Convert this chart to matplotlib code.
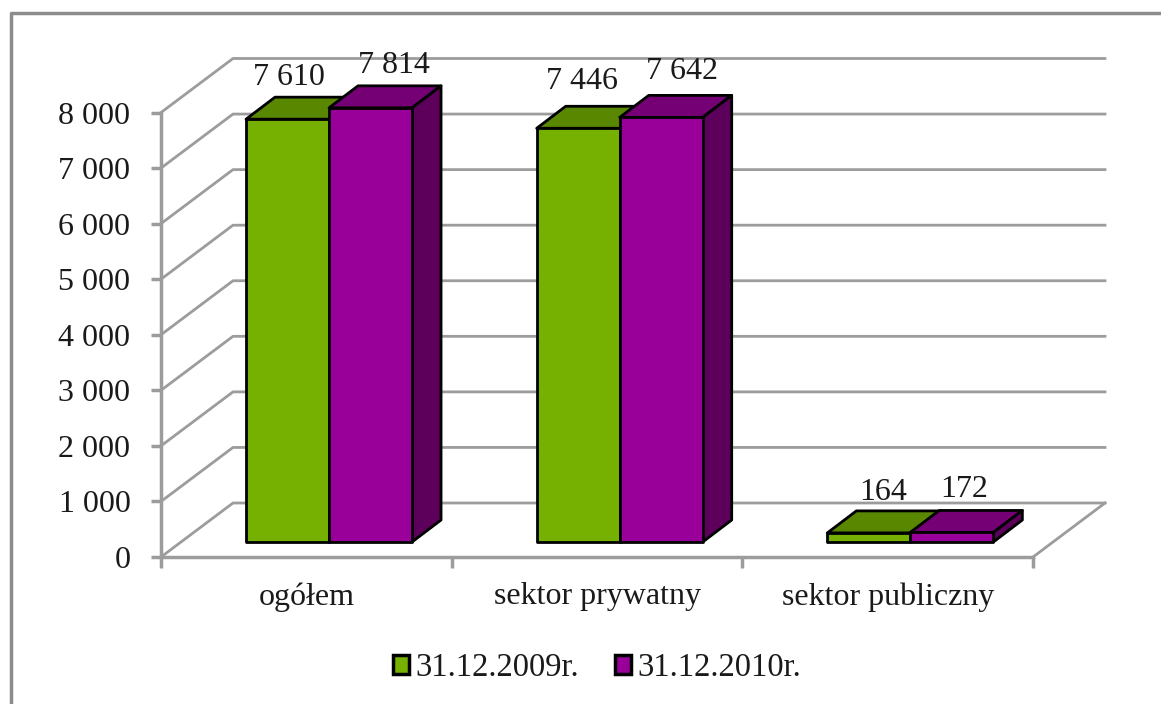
import matplotlib
matplotlib.use("Agg")
import matplotlib.pyplot as plt
from matplotlib.patches import Patch, Polygon, Rectangle

plt.rcParams['font.family'] = ['Liberation Serif', 'DejaVu Sans']

kategorie = ['ogółem', 'sektor prywatny', 'sektor publiczny']
wart_2009 = [7610, 7446, 164]
wart_2010 = [7814, 7642, 172]
podpisy_2009 = ['7 610', '7 446', '164']
podpisy_2010 = ['7 814', '7 642', '172']
serie_nazwy = ['31.12.2009r.', '31.12.2010r.']
y_ticks = [0, 1000, 2000, 3000, 4000, 5000, 6000, 7000, 8000]
y_labels = ['0', '1 000', '2 000', '3 000', '4 000', '5 000', '6 000', '7 000', '8 000']

W, H = 1161, 704
Y0, Y8000 = 557, 112.5
GRAY = '#9c9c9c'
TXT = '#1a1a1a'
# kolory: przod, gora, bok
GREEN = ('#76b000', '#5a8700', '#4a7000')
PURPLE = ('#990099', '#750075', '#5c005c')

fig = plt.figure(figsize=(W / 100, H / 100), dpi=100)
ax = fig.add_axes([161 / W, 1 - Y0 / H, (1033 - 161) / W, (Y0 - Y8000) / H])
ax.set_xlim(0, 3)
ax.set_ylim(0, 8000)
ax.patch.set_visible(False)

# przeliczenie pikseli na jednostki osi
px_x = 3 / (1033 - 161)
px_y = 8000 / (Y0 - Y8000)
BACK_DX, BACK_DY = 72 * px_x, 54 * px_y


def oblique(x, y, dx_px, dy_px):
    return (x + dx_px * px_x, y + dy_px * px_y)


# siatka na tylnej scianie i scianie bocznej
for t in y_ticks:
    ax.plot([0, BACK_DX, 3 + BACK_DX], [t, t + BACK_DY, t + BACK_DY],
            color=GRAY, lw=2, clip_on=False, zorder=1)
ax.plot([3, 3 + BACK_DX], [0, BACK_DY], color=GRAY, lw=2, clip_on=False, zorder=1)


def bar3d(x0, width, val, colors):
    # przesuniecie przedniej sciany slupka wzgledem podlogi
    left, base = oblique(x0, 0, 22.7, 15)
    dx, dy = 29 * px_x, 22 * px_y
    kw = dict(edgecolor='black', lw=2, clip_on=False, zorder=3, joinstyle='round')
    ax.add_patch(Polygon([(left, base + val), (left + dx, base + val + dy),
                          (left + width + dx, base + val + dy), (left + width, base + val)],
                         facecolor=colors[1], **kw))
    ax.add_patch(Polygon([(left + width, base), (left + width + dx, base + dy),
                          (left + width + dx, base + val + dy), (left + width, base + val)],
                         facecolor=colors[2], **kw))
    ax.add_patch(Rectangle((left, base), width, val, facecolor=colors[0], **kw))


BAR_W = 83 * px_x
for i in range(len(kategorie)):
    x0 = i + 0.5 - BAR_W
    bar3d(x0, BAR_W, wart_2009[i], GREEN)
    bar3d(x0 + BAR_W, BAR_W, wart_2010[i], PURPLE)

# podpisy danych - polozenie jak w oryginale (px wzgledem srodka przedniej sciany)
off_2009 = [(24, 42), (27, 47), (37, 41)]
off_2010 = [(46, 43), (44, 46), (35, 43)]
for i in range(len(kategorie)):
    xa = i + 0.5 - BAR_W / 2
    xb = i + 0.5 + BAR_W / 2
    ax.annotate(podpisy_2009[i], (xa, wart_2009[i]), xytext=off_2009[i], textcoords='offset pixels',
                ha='center', va='bottom', fontsize=23, color=TXT, annotation_clip=False, zorder=5)
    ax.annotate(podpisy_2010[i], (xb, wart_2010[i]), xytext=off_2010[i], textcoords='offset pixels',
                ha='center', va='bottom', fontsize=23, color=TXT, annotation_clip=False, zorder=5)

# osie
for s in ['top', 'right']:
    ax.spines[s].set_visible(False)
for s in ['left', 'bottom']:
    ax.spines[s].set_color(GRAY)
    ax.spines[s].set_linewidth(2.5)
ax.set_yticks(y_ticks)
ax.set_yticklabels(y_labels, fontsize=23, color=TXT)
ax.set_xticks([0, 1, 2, 3])
ax.set_xticklabels([])
ax.set_xticks([0.5, 1.5, 2.5], minor=True)
ax.set_xticklabels(kategorie, minor=True, fontsize=23, color=TXT)
ax.tick_params(axis='y', length=7, width=2.5, color=GRAY, pad=15)
ax.tick_params(axis='x', which='major', length=8, width=2.5, color=GRAY)
ax.tick_params(axis='x', which='minor', length=0, pad=18)

# legenda
handles = [Patch(facecolor=GREEN[0], edgecolor='black', lw=2.5),
           Patch(facecolor=PURPLE[0], edgecolor='black', lw=2.5)]
fig.legend(handles, serie_nazwy, loc='center', bbox_to_anchor=(597 / W, 1 - 668 / H),
           ncol=2, frameon=False, fontsize=23.5, handlelength=0.5, handleheight=0.5,
           handletextpad=0.2, columnspacing=1.1, labelcolor=TXT)

# ramka obszaru wykresu
fig.add_artist(plt.Line2D([11 / W, 11 / W, 1], [0, 1 - 13 / H, 1 - 13 / H],
                          color='#8c8c8c', lw=2.5))

fig.savefig('out.png', dpi=100, facecolor='white')
